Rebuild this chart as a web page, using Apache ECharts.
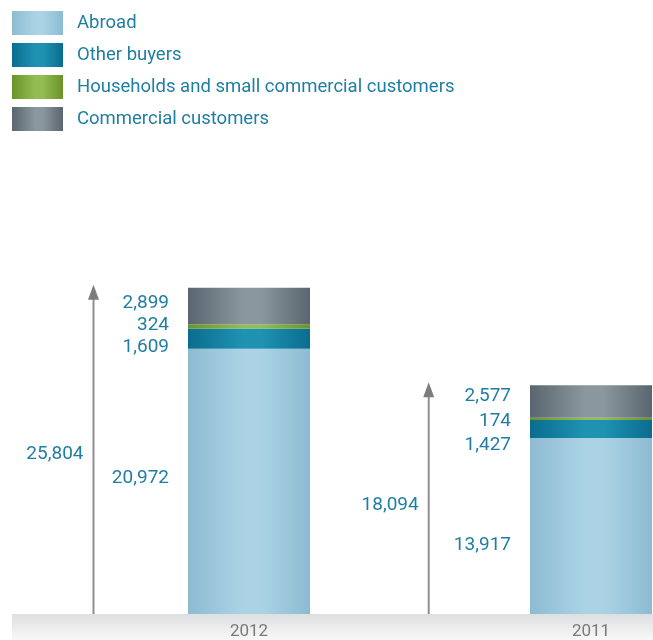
<!DOCTYPE html>
<html>
<head>
<meta charset="utf-8">
<script src="https://cdn.jsdelivr.net/npm/echarts@6/dist/echarts.min.js"></script>
<style>
  html, body { margin: 0; padding: 0; background: #ffffff; }
  #chart { width: 653px; height: 640px; }
</style>
</head>
<body>
<div id="chart"></div>
<script>
// Sales volume by customer group, 2012 vs 2011
const years = ['2012', '2011'];
const abroad = [20972, 13917];
const otherBuyers = [1609, 1427];
const households = [324, 174];
const commercial = [2899, 2577];
const totals = [25804, 18094];

const seriesNames = ['Abroad', 'Other buyers', 'Households and small commercial customers', 'Commercial customers'];

const TEAL = '#1f7ea3';
const FONT = 'Roboto, "Liberation Sans", sans-serif';

// horizontal "cylinder" shading: darker edges, lighter middle
function shade(edge, mid) {
  return new echarts.graphic.LinearGradient(0, 0, 1, 0, [
    { offset: 0, color: edge },
    { offset: 0.45, color: mid },
    { offset: 0.6, color: mid },
    { offset: 1, color: edge }
  ]);
}
const fills = [
  shade('#8dbbd2', '#abd3e5'),
  shade('#0a6d8f', '#1f92b2'),
  shade('#6a9428', '#93bc52'),
  shade('#59666f', '#8b979e')
];

// vertical nudges for the value labels next to each segment, per year
const labelNudge = [
  [-3, 19],   // Abroad
  [9, 16],    // Other buyers
  [-1, 2],    // Households
  [-3, -5]    // Commercial
];
const arrowShift = [-155.5, -162.3];
const totalNudge = [3, 6];

const fmt = v => Number(v).toLocaleString('en-US');

const valueSets = [abroad, otherBuyers, households, commercial];
const barSeries = valueSets.map((vals, si) => ({
  name: seriesNames[si],
  type: 'bar',
  stack: 'sales',
  barWidth: 122,
  clip: false,
  itemStyle: { color: fills[si] },
  emphasis: { disabled: true },
  data: vals.map((v, ci) => ({
    value: v,
    label: {
      show: true,
      position: 'left',
      distance: 19,
      offset: [0, labelNudge[si][ci]],
      formatter: p => fmt(p.value),
      color: TEAL,
      fontSize: 19,
      fontFamily: FONT
    }
  }))
}));

const arrowSeries = {
  type: 'custom',
  name: 'total',
  silent: true,
  clip: false,
  data: totals.map((t, i) => [i, t]),
  encode: { x: 0, y: 1 },
  renderItem: function (params, api) {
    const i = params.dataIndex;
    const base = api.coord([api.value(0), 0]);
    const top = api.coord([api.value(0), api.value(1)]);
    const x = base[0] + arrowShift[i];
    const tipY = top[1] - 3;
    const headLen = 15;
    return {
      type: 'group',
      children: [
        {
          type: 'line',
          shape: { x1: x, y1: base[1], x2: x, y2: tipY + headLen - 2 },
          style: { stroke: '#8f8f8f', lineWidth: 2 }
        },
        {
          type: 'polygon',
          shape: { points: [[x, tipY], [x - 5.5, tipY + headLen], [x + 5.5, tipY + headLen]] },
          style: { fill: '#7d7d7d' }
        },
        {
          type: 'text',
          style: {
            x: x - 10,
            y: (base[1] + top[1]) / 2 + totalNudge[i],
            text: fmt(api.value(1)),
            align: 'right',
            verticalAlign: 'middle',
            fill: TEAL,
            fontSize: 19,
            fontFamily: FONT
          }
        }
      ]
    };
  }
};

const chart = echarts.init(document.getElementById('chart'), null, { renderer: 'canvas' });
chart.setOption({
  animation: false,
  backgroundColor: '#ffffff',
  graphic: [{
    type: 'rect',
    z: -10,
    shape: { x: 12, y: 614, width: 641, height: 26 },
    style: {
      fill: new echarts.graphic.LinearGradient(0, 0, 0, 1, [
        { offset: 0, color: '#dedfe0' },
        { offset: 1, color: '#f8f8f8' }
      ])
    }
  }],
  legend: {
    data: seriesNames,
    orient: 'vertical',
    left: 7,
    top: 6,
    itemWidth: 51,
    itemHeight: 24,
    itemGap: 8,
    icon: 'rect',
    selectedMode: false,
    textStyle: {
      color: TEAL,
      fontSize: 18.5,
      fontFamily: FONT,
      padding: [0, 0, 0, 9]
    }
  },
  // category centres sit on the grid edges (boundaryGap off)
  grid: { left: 249, top: 7, right: 62, bottom: 26, containLabel: false },
  xAxis: {
    type: 'category',
    data: years,
    boundaryGap: false,
    axisLine: { show: false },
    axisTick: { show: false },
    splitLine: { show: false },
    axisLabel: { color: '#7a7a7a', fontSize: 17, fontFamily: FONT, margin: 9 }
  },
  yAxis: {
    type: 'value',
    min: 0,
    max: 48000,
    show: false,
    splitLine: { show: false }
  },
  series: [...barSeries, arrowSeries]
});
</script>
</body>
</html>
